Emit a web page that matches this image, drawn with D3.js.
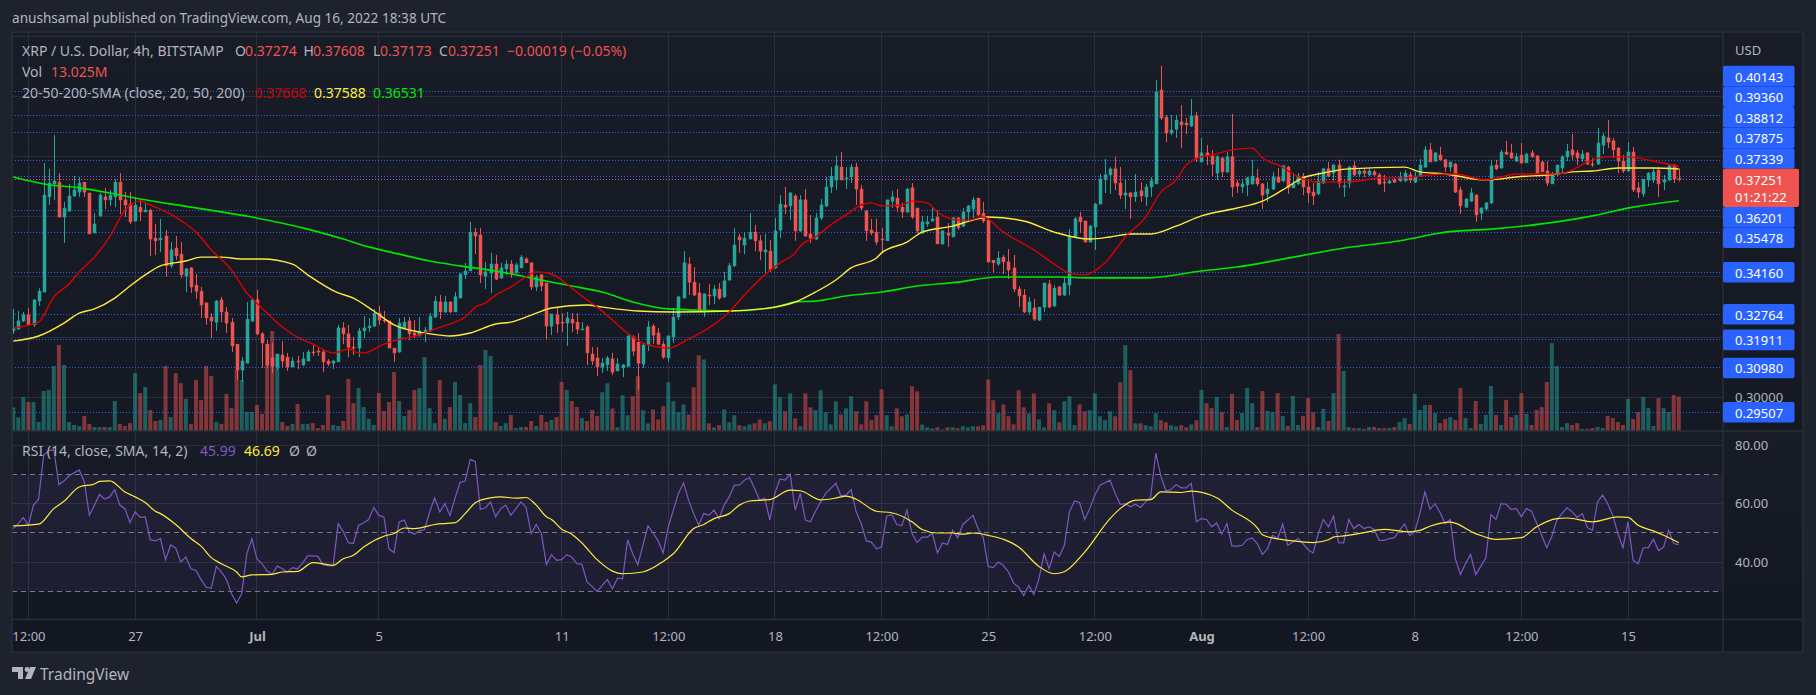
<!DOCTYPE html>
<html>
<head>
<meta charset="utf-8">
<script src="https://cdn.jsdelivr.net/npm/d3@7"></script>
<style>
  html, body { margin: 0; padding: 0; background: #1e222d; overflow: hidden; }
  svg { display: block; }
  text { font-family: "Noto Sans", sans-serif; }
  .tick line, .domain { display: none; }
</style>
</head>
<body>
<svg id="chart" width="1816" height="695"></svg>
<script>
// 4h candles, Jun 23 00:00 to Aug 16 16:00 2022
const opens = [
0.3221,0.3227,0.3254,0.3274,0.3241,0.3320,0.3350,0.3666,0.3709,0.3715,
0.3599,0.3619,0.3669,0.3682,0.3715,0.3679,0.3546,0.3603,0.3666,0.3656,
0.3666,0.3715,0.3656,0.3642,0.3586,0.3632,0.3616,0.3622,0.3529,0.3523,
0.3536,0.3437,0.3496,0.3476,0.3403,0.3430,0.3373,0.3353,0.3314,0.3267,
0.3250,0.3324,0.3284,0.3250,0.3177,0.3091,0.3114,0.3254,0.3324,0.3211,
0.3177,0.3131,0.3101,0.3141,0.3134,0.3101,0.3121,0.3108,0.3121,0.3151,
0.3154,0.3151,0.3121,0.3114,0.3118,0.3231,0.3211,0.3167,0.3164,0.3221,
0.3231,0.3237,0.3280,0.3257,0.3254,0.3164,0.3151,0.3231,0.3254,0.3214,
0.3204,0.3214,0.3221,0.3267,0.3317,0.3284,0.3317,0.3284,0.3330,0.3407,
0.3420,0.3549,0.3539,0.3403,0.3413,0.3443,0.3397,0.3427,0.3443,0.3413,
0.3430,0.3460,0.3447,0.3367,0.3407,0.3380,0.3237,0.3274,0.3250,0.3247,
0.3260,0.3250,0.3224,0.3234,0.3144,0.3131,0.3101,0.3108,0.3128,0.3088,
0.3098,0.3104,0.3201,0.3184,0.3111,0.3174,0.3237,0.3214,0.3177,0.3131,
0.3201,0.3267,0.3330,0.3443,0.3383,0.3347,0.3287,0.3340,0.3337,0.3360,
0.3334,0.3390,0.3437,0.3533,0.3506,0.3526,0.3549,0.3520,0.3483,0.3486,
0.3430,0.3556,0.3639,0.3636,0.3669,0.3553,0.3656,0.3543,0.3526,0.3596,
0.3636,0.3699,0.3722,0.3765,0.3725,0.3732,0.3765,0.3692,0.3619,0.3556,
0.3549,0.3526,0.3520,0.3652,0.3662,0.3632,0.3616,0.3696,0.3629,0.3546,
0.3576,0.3586,0.3599,0.3510,0.3546,0.3533,0.3596,0.3569,0.3616,0.3626,
0.3662,0.3612,0.3589,0.3456,0.3443,0.3466,0.3450,0.3430,0.3360,0.3340,
0.3284,0.3297,0.3257,0.3300,0.3377,0.3304,0.3367,0.3340,0.3373,0.3533,
0.3599,0.3586,0.3516,0.3566,0.3642,0.3725,0.3739,0.3759,0.3712,0.3672,
0.3679,0.3666,0.3686,0.3666,0.3699,0.3709,0.4021,0.3931,0.3878,0.3891,
0.3915,0.3911,0.3901,0.3935,0.3782,0.3812,0.3802,0.3745,0.3795,0.3749,
0.3799,0.3712,0.3699,0.3706,0.3709,0.3729,0.3709,0.3676,0.3692,0.3732,
0.3719,0.3765,0.3696,0.3709,0.3735,0.3699,0.3682,0.3676,0.3712,0.3759,
0.3745,0.3772,0.3699,0.3712,0.3769,0.3742,0.3752,0.3739,0.3749,0.3739,
0.3715,0.3712,0.3722,0.3719,0.3719,0.3739,0.3715,0.3735,0.3765,0.3822,
0.3785,0.3805,0.3789,0.3765,0.3775,0.3689,0.3632,0.3652,0.3672,0.3612,
0.3626,0.3646,0.3772,0.3762,0.3815,0.3812,0.3785,0.3805,0.3779,0.3812,
0.3802,0.3782,0.3752,0.3709,0.3739,0.3762,0.3799,0.3822,0.3812,0.3792,
0.3812,0.3775,0.3775,0.3838,0.3862,0.3852,0.3828,0.3785,0.3752,0.3815,
0.3696,0.3676,0.3722,0.3722,0.3755,0.3715,0.3722,0.3772,0.37274];
const highs = [
0.3294,0.3287,0.3284,0.3297,0.3327,0.3363,0.3779,0.3759,0.3871,0.3745,
0.3649,0.3709,0.3735,0.3732,0.3715,0.3679,0.3612,0.3679,0.3696,0.3689,
0.3725,0.3745,0.3682,0.3682,0.3666,0.3656,0.3649,0.3626,0.3576,0.3593,
0.3556,0.3516,0.3536,0.3516,0.3430,0.3433,0.3410,0.3367,0.3314,0.3280,
0.3324,0.3334,0.3300,0.3264,0.3177,0.3134,0.3317,0.3330,0.3357,0.3217,
0.3191,0.3181,0.3144,0.3187,0.3148,0.3134,0.3138,0.3151,0.3158,0.3174,
0.3164,0.3161,0.3128,0.3124,0.3241,0.3250,0.3241,0.3201,0.3231,0.3270,
0.3264,0.3294,0.3304,0.3287,0.3254,0.3164,0.3264,0.3267,0.3267,0.3257,
0.3267,0.3234,0.3280,0.3337,0.3340,0.3337,0.3320,0.3350,0.3413,0.3447,
0.3583,0.3563,0.3563,0.3450,0.3480,0.3473,0.3447,0.3456,0.3456,0.3447,
0.3473,0.3466,0.3447,0.3407,0.3410,0.3380,0.3277,0.3300,0.3280,0.3284,
0.3280,0.3280,0.3250,0.3241,0.3167,0.3167,0.3131,0.3138,0.3148,0.3131,
0.3111,0.3207,0.3207,0.3214,0.3181,0.3254,0.3244,0.3231,0.3187,0.3207,
0.3297,0.3337,0.3486,0.3466,0.3433,0.3380,0.3344,0.3377,0.3373,0.3380,
0.3417,0.3447,0.3563,0.3543,0.3549,0.3612,0.3573,0.3539,0.3543,0.3523,
0.3596,0.3672,0.3699,0.3682,0.3676,0.3672,0.3692,0.3606,0.3612,0.3659,
0.3732,0.3765,0.3802,0.3815,0.3765,0.3775,0.3779,0.3706,0.3622,0.3593,
0.3593,0.3563,0.3656,0.3686,0.3692,0.3646,0.3696,0.3712,0.3629,0.3603,
0.3603,0.3629,0.3622,0.3556,0.3579,0.3599,0.3599,0.3629,0.3639,0.3666,
0.3662,0.3649,0.3596,0.3456,0.3486,0.3473,0.3493,0.3473,0.3370,0.3360,
0.3334,0.3327,0.3300,0.3380,0.3390,0.3373,0.3370,0.3400,0.3559,0.3599,
0.3616,0.3586,0.3573,0.3646,0.3742,0.3792,0.3765,0.3799,0.3765,0.3725,
0.3682,0.3742,0.3715,0.3709,0.3732,0.4054,0.4101,0.3938,0.3938,0.3938,
0.3971,0.3928,0.3991,0.3948,0.3862,0.3838,0.3822,0.3805,0.3799,0.3815,
0.3941,0.3722,0.3722,0.3732,0.3789,0.3759,0.3712,0.3715,0.3749,0.3762,
0.3772,0.3769,0.3745,0.3745,0.3745,0.3722,0.3712,0.3749,0.3762,0.3782,
0.3775,0.3789,0.3722,0.3769,0.3785,0.3759,0.3762,0.3762,0.3755,0.3745,
0.3739,0.3725,0.3729,0.3749,0.3755,0.3749,0.3749,0.3792,0.3835,0.3845,
0.3815,0.3832,0.3792,0.3782,0.3779,0.3699,0.3662,0.3696,0.3676,0.3632,
0.3649,0.3789,0.3789,0.3822,0.3852,0.3842,0.3812,0.3845,0.3812,0.3822,
0.3805,0.3785,0.3785,0.3749,0.3772,0.3805,0.3842,0.3875,0.3822,0.3822,
0.3815,0.3795,0.3895,0.3878,0.3921,0.3862,0.3832,0.3805,0.3848,0.3832,
0.3715,0.3725,0.3749,0.3765,0.3765,0.3739,0.3775,0.3775,0.37608];
const lows = [
0.3211,0.3227,0.3250,0.3241,0.3234,0.3304,0.3350,0.3639,0.3656,0.3599,
0.3513,0.3616,0.3666,0.3666,0.3666,0.3543,0.3546,0.3599,0.3626,0.3636,
0.3632,0.3609,0.3599,0.3576,0.3583,0.3586,0.3616,0.3470,0.3473,0.3483,
0.3400,0.3430,0.3456,0.3397,0.3350,0.3347,0.3327,0.3264,0.3241,0.3197,
0.3221,0.3250,0.3214,0.3151,0.3058,0.3051,0.3114,0.3250,0.3207,0.3098,
0.3098,0.3081,0.3091,0.3101,0.3088,0.3101,0.3094,0.3104,0.3121,0.3138,
0.3138,0.3084,0.3104,0.3094,0.3118,0.3177,0.3134,0.3141,0.3134,0.3197,
0.3217,0.3234,0.3241,0.3247,0.3164,0.3118,0.3148,0.3227,0.3191,0.3197,
0.3204,0.3184,0.3217,0.3264,0.3260,0.3280,0.3280,0.3284,0.3330,0.3393,
0.3420,0.3476,0.3380,0.3360,0.3347,0.3390,0.3393,0.3407,0.3397,0.3413,
0.3430,0.3447,0.3357,0.3353,0.3353,0.3191,0.3207,0.3214,0.3217,0.3171,
0.3217,0.3211,0.3224,0.3108,0.3108,0.3071,0.3081,0.3088,0.3074,0.3088,
0.3068,0.3101,0.3138,0.3025,0.3098,0.3154,0.3177,0.3174,0.3128,0.3118,
0.3181,0.3257,0.3330,0.3340,0.3337,0.3284,0.3267,0.3307,0.3310,0.3324,
0.3330,0.3387,0.3433,0.3480,0.3476,0.3526,0.3486,0.3456,0.3413,0.3417,
0.3427,0.3529,0.3609,0.3589,0.3520,0.3549,0.3533,0.3513,0.3523,0.3589,
0.3632,0.3679,0.3689,0.3722,0.3692,0.3712,0.3639,0.3622,0.3520,0.3539,
0.3506,0.3483,0.3520,0.3629,0.3616,0.3596,0.3612,0.3593,0.3546,0.3543,
0.3566,0.3583,0.3510,0.3506,0.3500,0.3533,0.3556,0.3566,0.3583,0.3596,
0.3603,0.3579,0.3447,0.3413,0.3437,0.3410,0.3393,0.3350,0.3300,0.3280,
0.3274,0.3254,0.3254,0.3284,0.3297,0.3300,0.3337,0.3337,0.3340,0.3529,
0.3546,0.3516,0.3516,0.3490,0.3642,0.3679,0.3676,0.3689,0.3659,0.3626,
0.3593,0.3649,0.3649,0.3636,0.3666,0.3709,0.3921,0.3848,0.3871,0.3862,
0.3828,0.3875,0.3898,0.3782,0.3782,0.3772,0.3735,0.3722,0.3732,0.3745,
0.3666,0.3679,0.3679,0.3669,0.3706,0.3702,0.3626,0.3649,0.3689,0.3712,
0.3715,0.3676,0.3696,0.3706,0.3672,0.3646,0.3639,0.3672,0.3709,0.3732,
0.3719,0.3696,0.3666,0.3696,0.3735,0.3732,0.3732,0.3735,0.3735,0.3706,
0.3682,0.3709,0.3712,0.3715,0.3715,0.3712,0.3712,0.3732,0.3762,0.3782,
0.3782,0.3785,0.3749,0.3749,0.3679,0.3609,0.3629,0.3649,0.3583,0.3589,
0.3619,0.3642,0.3755,0.3759,0.3805,0.3792,0.3782,0.3775,0.3779,0.3795,
0.3742,0.3749,0.3702,0.3709,0.3735,0.3749,0.3785,0.3789,0.3772,0.3782,
0.3772,0.3765,0.3772,0.3808,0.3828,0.3795,0.3745,0.3745,0.3749,0.3682,
0.3662,0.3666,0.3699,0.3712,0.3666,0.3689,0.3719,0.3712,0.37173];
const closes = [
0.3231,0.3254,0.3274,0.3241,0.3324,0.3353,0.3672,0.3712,0.3719,0.3599,
0.3629,0.3669,0.3689,0.3712,0.3682,0.3543,0.3576,0.3672,0.3656,0.3672,
0.3715,0.3656,0.3639,0.3583,0.3639,0.3616,0.3622,0.3526,0.3520,0.3529,
0.3437,0.3490,0.3470,0.3407,0.3427,0.3367,0.3353,0.3307,0.3264,0.3254,
0.3320,0.3284,0.3247,0.3171,0.3091,0.3121,0.3260,0.3324,0.3211,0.3181,
0.3108,0.3104,0.3144,0.3121,0.3101,0.3121,0.3118,0.3128,0.3151,0.3148,
0.3151,0.3118,0.3111,0.3121,0.3231,0.3211,0.3167,0.3164,0.3221,0.3231,
0.3237,0.3280,0.3257,0.3254,0.3164,0.3148,0.3247,0.3250,0.3211,0.3207,
0.3221,0.3224,0.3270,0.3320,0.3284,0.3317,0.3284,0.3334,0.3410,0.3420,
0.3549,0.3536,0.3407,0.3417,0.3443,0.3393,0.3430,0.3443,0.3410,0.3440,
0.3466,0.3447,0.3367,0.3400,0.3370,0.3237,0.3277,0.3244,0.3247,0.3264,
0.3247,0.3227,0.3227,0.3148,0.3121,0.3101,0.3114,0.3131,0.3084,0.3111,
0.3108,0.3204,0.3154,0.3114,0.3174,0.3234,0.3207,0.3177,0.3134,0.3204,
0.3267,0.3334,0.3447,0.3383,0.3340,0.3287,0.3344,0.3337,0.3360,0.3330,
0.3387,0.3437,0.3506,0.3523,0.3529,0.3549,0.3520,0.3486,0.3490,0.3423,
0.3553,0.3642,0.3632,0.3679,0.3553,0.3656,0.3536,0.3529,0.3596,0.3639,
0.3699,0.3735,0.3769,0.3722,0.3729,0.3765,0.3692,0.3629,0.3553,0.3546,
0.3516,0.3523,0.3656,0.3666,0.3632,0.3616,0.3692,0.3599,0.3553,0.3583,
0.3583,0.3593,0.3510,0.3553,0.3539,0.3596,0.3563,0.3616,0.3636,0.3656,
0.3606,0.3586,0.3450,0.3447,0.3463,0.3450,0.3423,0.3360,0.3337,0.3284,
0.3317,0.3260,0.3300,0.3380,0.3300,0.3363,0.3340,0.3380,0.3533,0.3593,
0.3583,0.3516,0.3569,0.3642,0.3725,0.3739,0.3759,0.3712,0.3672,0.3679,
0.3666,0.3682,0.3669,0.3699,0.3719,0.4014,0.3928,0.3878,0.3888,0.3921,
0.3905,0.3905,0.3935,0.3795,0.3812,0.3802,0.3775,0.3799,0.3749,0.3799,
0.3699,0.3702,0.3709,0.3729,0.3735,0.3709,0.3672,0.3692,0.3732,0.3715,
0.3769,0.3696,0.3709,0.3735,0.3699,0.3679,0.3669,0.3719,0.3759,0.3735,
0.3772,0.3712,0.3702,0.3765,0.3739,0.3752,0.3745,0.3752,0.3739,0.3709,
0.3712,0.3719,0.3715,0.3732,0.3745,0.3722,0.3735,0.3772,0.3822,0.3782,
0.3812,0.3789,0.3765,0.3782,0.3682,0.3636,0.3659,0.3679,0.3606,0.3629,
0.3646,0.3769,0.3759,0.3815,0.3808,0.3795,0.3799,0.3779,0.3808,0.3799,
0.3745,0.3749,0.3712,0.3739,0.3772,0.3799,0.3818,0.3805,0.3795,0.3808,
0.3775,0.3772,0.3845,0.3868,0.3848,0.3822,0.3785,0.3752,0.3815,0.3689,
0.3682,0.3725,0.3745,0.3749,0.3709,0.3722,0.3769,0.3725,0.37251];
// millions
const volumes = [
9.0,5.2,12.9,11.0,11.0,3.4,15.2,15.6,24.7,32.7,
25.1,3.4,2.3,1.8,5.7,2.7,1.5,1.5,1.5,1.5,
11.4,2.7,1.9,3.0,22.0,14.4,16.7,8.0,3.8,4.2,
24.7,5.3,22.0,18.2,12.2,2.7,19.4,11.8,24.7,20.9,
3.4,2.7,14.1,8.7,23.2,19.4,7.2,7.2,9.9,6.5,
33.1,38.0,29.3,3.4,1.9,2.7,10.3,2.7,2.7,3.0,
1.1,2.3,13.7,2.3,1.9,3.8,19.8,10.6,16.3,9.1,
4.6,2.3,14.4,7.6,11.0,22.4,11.4,5.7,8.0,15.6,
16.3,28.1,8.7,3.0,19.4,4.6,9.1,18.6,13.7,3.0,
10.6,5.3,25.1,30.8,28.5,3.4,1.9,3.0,6.1,1.1,
1.5,1.5,3.8,1.9,6.1,3.4,4.2,5.3,18.6,15.6,
11.4,9.1,4.9,3.8,8.0,5.7,14.7,18.1,8.6,1.4,
13.6,6.0,13.2,20.8,7.9,2.9,8.2,4.4,9.4,18.5,
11.3,7.1,10.1,6.3,16.6,28.8,27.2,2.9,1.4,2.2,
8.2,3.3,6.0,2.2,1.8,2.5,2.9,4.4,2.9,3.7,
17.7,12.8,7.5,14.3,4.8,1.8,14.3,9.0,7.9,15.5,
7.1,2.5,11.3,6.3,8.6,13.2,7.5,2.5,11.3,4.1,
6.0,15.8,6.0,1.8,8.6,5.6,6.3,17.0,15.1,2.5,
1.4,1.0,1.4,0.6,1.4,1.4,1.0,1.8,1.4,1.8,
1.8,2.2,19.6,11.7,6.7,10.1,5.6,2.5,15.5,9.0,
6.7,14.3,4.4,1.4,10.5,7.9,3.3,11.3,13.2,2.2,
10.1,7.5,7.9,14.3,5.6,4.1,7.5,5.6,18.5,32.6,
23.1,2.9,2.9,2.2,1.8,6.7,4.1,3.3,2.2,1.8,
2.2,1.4,2.5,4.1,15.6,10.6,8.7,12.9,7.2,1.5,
14.1,4.2,6.8,16.3,10.6,1.5,15.2,7.6,7.2,14.4,
5.7,1.9,13.3,2.3,5.7,12.5,7.2,1.5,8.4,3.8,
14.4,36.9,22.8,1.5,1.1,1.1,0.8,1.5,1.5,1.1,
1.1,1.1,1.5,3.4,4.9,2.7,14.1,8.0,9.9,9.9,
6.8,3.0,4.6,5.3,4.2,16.3,4.9,1.1,11.4,2.7,
6.1,17.1,6.1,2.3,11.8,5.3,6.1,14.4,6.5,2.3,
8.0,9.1,18.6,33.4,24.7,1.5,3.0,2.3,3.0,0.8,
0.8,1.1,1.5,1.1,5.7,4.9,3.4,2.3,12.2,4.6,
7.2,12.9,8.7,1.9,12.5,8.7,7.2,13.7,13.025];
const rsiValues = [
51.5,53.2,55.3,52.6,59.5,61.5,76.6,78.1,78.3,66.5,
67.7,69.5,70.5,71.5,67.5,56,59.5,63.1,61.6,62.3,
64.8,59.5,58.3,53.5,57.2,55.3,55.5,47.7,47.3,48.1,
40.9,45.9,44.9,40.1,41.8,37.8,37.2,34.1,31.5,31.1,
38.6,36.7,34.1,29.3,26.1,29.3,42.9,48,41.2,39.5,
37,35.9,38.7,37.8,36.7,38.2,37.8,39.8,42.2,42.2,
42,39.2,38.9,38.9,53.2,50.4,46.7,46.4,52.6,53.5,
54.6,58.7,56,55.5,44.6,43.3,53.8,54.4,50.4,49.6,
50.7,51.2,57.2,61.9,57.2,60,56,61.8,67.2,67.7,
75.1,74.3,58,58.6,60.6,55.5,58.3,59.5,56,58.3,
60.6,58.7,49.8,52.9,49.8,39.2,42.6,40.7,40.9,42.6,
41.8,39.5,39.3,33.3,31.8,30,
32.1,34.1,31,34.6,34.4,47.7,42.9,39.2,45.8,52.4,
50,47.3,43.2,52.1,57.8,63.5,67.1,61.2,56.6,52.6,
56.6,56,57.8,54.9,59.5,62.3,66.3,66.3,68,68.9,
65.2,61.2,61.8,54.4,63.5,68.4,68,70.1,57.8,63.5,
54.4,53.8,57.4,60.6,63.5,65.2,66.9,62.7,62.9,64.8,
57.2,53.2,47.3,46.9,44.6,45.2,55.7,56.3,52.9,52.5,
57.8,49.8,46.8,48.6,48.6,49.8,43.2,46.6,46.1,50.9,
48.4,52.9,54.4,56,51.5,48.6,38.6,38.2,40.1,38.9,
36.7,32.9,31.5,28.7,32.1,29,34.4,42.9,37.8,43.5,
42,45.8,57.2,60.9,60.4,54.6,58.3,62.9,66.3,67.1,
68,63.5,59.8,60,58.9,59.8,58.7,60.6,62.3,77.2,
69.4,64.4,64.8,66.5,65.4,65.4,66.9,53.8,
54.9,54.6,52.1,53.4,49.6,53.2,45.6,45.5,45.8,47.8,
48.3,46.4,42.7,44.6,49.2,48.1,53,45.8,46.9,48.1,
46.4,44.3,43.2,49.8,54.6,52.1,55.7,46.7,46.6,54.6,
51.5,52.9,51.5,52.1,51.3,47.5,47.5,48.1,48.4,50.9,
53.1,49.1,50.4,56.6,64,58.1,60,56.9,53.2,54.6,
41.2,35.9,39.5,42.7,35.8,38.6,41.5,56.3,54.6,60,
59.8,58,58.4,55.5,58.3,57.4,53.4,49.2,45,48.9,
54.4,56.6,58.6,57.2,55.3,56.6,51.8,50.9,60.6,62.9,
60,56,49.8,45,53.8,40.7,39.5,44.9,45,47.9,
44,45.2,50.9,46.4,45.99];

// moving averages, read at the bars where the line bends
const ma20Bars = [0,5,8,11,13,16,19,22,25,27,32,34,36,39,43,46,47,50,53,57,59,63,64,66,68,69,73,77,80,83,87,89,91,93,95,98,101,103,106,108,110,113,115,118,120,124,129,133,137,141,144,148,151,154,155,158,161,164,167,169,171,175,177,180,182,186,188,191,195,201,205,208,211,215,219,223,226,229,231,234,236,240,244,246,250,252,257,261,265,269,274,277,282,284,290,293,296,304,307,310,314,318,323,328];
const ma20Values = [
0.3231,0.3250,0.3334,0.3377,0.3417,0.3466,0.3533,0.3622,0.3652,0.3639,
0.3599,0.3576,0.3549,0.3490,0.3423,0.3347,0.3330,0.3280,0.3234,0.3191,
0.3177,0.3148,0.3151,0.3161,0.3148,0.3148,0.3177,0.3197,0.3207,0.3227,
0.3250,0.3267,0.3300,0.3314,0.3340,0.3367,0.3400,0.3417,0.3410,0.3390,
0.3363,0.3324,0.3300,0.3257,0.3227,0.3181,0.3164,0.3194,0.3231,0.3284,
0.3340,0.3407,0.3447,0.3480,0.3503,0.3533,0.3573,0.3606,0.3639,0.3646,
0.3636,0.3639,0.3652,0.3646,0.3616,0.3589,0.3589,0.3599,0.3549,0.3490,
0.3443,0.3413,0.3407,0.3447,0.3533,0.3599,0.3682,0.3722,0.3772,0.3799,
0.3805,0.3822,0.3828,0.3795,0.3765,0.3742,0.3715,0.3715,0.3719,0.3729,
0.3729,0.3735,0.3742,0.3742,0.3722,0.3732,0.3742,0.3742,0.3755,0.3782,
0.3799,0.3799,0.3785,0.37668];
const ma50Bars = [0,5,10,13,16,20,23,26,29,34,37,41,45,49,55,58,64,67,71,75,80,84,86,90,95,98,103,106,113,116,123,130,141,150,154,158,162,165,170,171,176,179,185,189,192,199,205,212,216,220,224,229,234,241,246,250,254,257,263,274,277,282,290,296,304,307,311,316,323,328];
const ma50Values = [
0.3187,0.3204,0.3247,0.3280,0.3294,0.3330,0.3370,0.3407,0.3437,0.3453,
0.3466,0.3466,0.3460,0.3460,0.3443,0.3407,0.3347,0.3330,0.3287,0.3241,
0.3217,0.3207,0.3204,0.3214,0.3244,0.3250,0.3280,0.3297,0.3307,0.3300,
0.3287,0.3284,0.3287,0.3300,0.3317,0.3350,0.3390,0.3430,0.3463,0.3480,
0.3516,0.3549,0.3569,0.3589,0.3599,0.3586,0.3549,0.3526,0.3533,0.3543,
0.3543,0.3569,0.3603,0.3629,0.3652,0.3689,0.3729,0.3742,0.3759,0.3765,
0.3749,0.3742,0.3722,0.3732,0.3742,0.3749,0.3752,0.3762,0.3762,0.37588];
const ma200Bars = [0,6,13,19,25,35,47,58,65,70,76,82,88,95,103,110,116,122,129,141,150,154,158,164,171,178,186,194,206,212,223,234,241,249,261,274,282,291,304,311,319,328];
const ma200Values = [
0.3732,0.3709,0.3696,0.3679,0.3659,0.3632,0.3599,0.3559,0.3526,0.3500,
0.3476,0.3453,0.3437,0.3420,0.3393,0.3370,0.3350,0.3317,0.3294,0.3287,
0.3300,0.3317,0.3320,0.3337,0.3350,0.3370,0.3383,0.3400,0.3400,0.3397,
0.3397,0.3420,0.3433,0.3456,0.3493,0.3523,0.3549,0.3559,0.3583,0.3603,
0.3632,0.36531];
const rsiMaBars = [0,5,8,10,13,16,17,19,22,24,26,28,29,32,35,37,39,41,44,45,47,51,53,56,59,63,65,67,69,73,75,77,79,83,87,89,91,94,96,99,101,103,105,106,108,110,112,115,
118,120,124,128,130,134,136,138,141,143,145,149,153,155,159,162,164,166,170,173,177,179,182,185,187,189,192,198,202,205,207,211,216,218,221,224,226,230,232,
237,240,245,246,249,251,256,259,260,262,266,270,275,277,279,283,288,292,297,300,304,306,311,316,318,320,323,325,328];
const rsiMaValues = [52.4,53,58.3,60.8,65.7,66.7,67.6,67.8,64,62.3,60.4,57.4,56.6,52.9,48.1,45.5,41.6,39.5,36.7,35,35.7,35.9,36.7,36.9,39.9,39,41.2,42.4,45.2,48.9,49.8,51.7,51.5,52.9,53.5,56.6,60.3,62,62.3,61.9,62.1,59.5,55.5,54.6,51.3,49.6,46.6,40.9,
37,36.1,36.7,40.3,42.9,51.5,52.9,54.9,56.6,59.5,60.9,61.4,64.6,64.4,61.3,61.9,62.6,61.5,57.4,56.9,53.8,51.2,50,50,49.6,50,49.2,45.2,38.6,36.1,36.8,43.5,54.9,58.3,61.2,61.4,64,63.8,64.3,
62,57.8,51.7,49.4,48,47.5,46.7,47.7,48.6,49,50.1,51.2,50.4,50.9,52.3,53.7,49.8,47.8,48.4,52.1,54.9,55.1,53.8,55.5,55.3,52.6,50.7,49.2,46.69];

const levelPrices = [0.40143,0.39360,0.38812,0.37875,0.37339,0.36201,0.35478,0.34160,0.32764,0.31911,0.30980,0.29507];
const lastPrice = 0.37251;
const countdown = "01:21:22";
const gridPrices = [0.30,0.32,0.34,0.36,0.38,0.40,0.42];
const axisPrices = [0.30];
const rsiTicks = [40,60,80];
const rsiBands = [30,50,70];
const timeTickBars = [3,24,48,72,108,129,150,171,192,213,234,255,276,297,318];
const timeTickLabels = ["12:00","27","Jul","5","11","12:00","18","12:00","25","12:00","Aug","12:00","8","12:00","15"];
const boldTicks = ["Jul","Aug"];

const UP = "#26a69a", DOWN = "#ef5350", BLUE = "#2962ff", GRID = "#2a2e39";
const AXIS_TEXT = "#b2b5be", LEGEND_TEXT = "#b2b5be";

// frame of the chart
const left = 12, right = 1723, frameRight = 1803, paneTop = 32;
const priceBottom = 431, rsiBottom = 619.5, frameBottom = 652;

const svg = d3.select("#chart");

const x = d3.scaleLinear().domain([0, opens.length - 1]).range([13.2, 1678.8]);
const y = d3.scaleLinear().domain([0.37875, 0.29507]).range([160.3, 412.3]);
const yVol = d3.scaleLinear().domain([0, 38]).range([priceBottom, priceBottom - 100]);
const yRsi = d3.scaleLinear().domain([80, 40]).range([445, 562.3]);

const defs = svg.append("defs");
function paneGradient(id, topColor, bottomColor) {
  const g = defs.append("linearGradient").attr("id", id).attr("x1", 0).attr("x2", 0).attr("y1", 0).attr("y2", 1);
  g.append("stop").attr("offset", 0).attr("stop-color", topColor);
  g.append("stop").attr("offset", 1).attr("stop-color", bottomColor);
}
paneGradient("bgPrice", "#181c27", "#151924");
paneGradient("bgRsi", "#181c27", "#131722");
defs.append("clipPath").attr("id", "priceClip").append("rect")
  .attr("x", left).attr("y", paneTop).attr("width", right - left).attr("height", priceBottom - paneTop);
defs.append("clipPath").attr("id", "rsiClip").append("rect")
  .attr("x", left).attr("y", priceBottom).attr("width", right - left).attr("height", rsiBottom - priceBottom);

// backgrounds
svg.append("rect").attr("width", 1816).attr("height", 695).attr("fill", "#1e222d");
svg.append("rect").attr("x", left).attr("y", paneTop).attr("width", frameRight - left).attr("height", priceBottom - paneTop).attr("fill", "url(#bgPrice)");
svg.append("rect").attr("x", left).attr("y", priceBottom).attr("width", frameRight - left).attr("height", rsiBottom - priceBottom).attr("fill", "url(#bgRsi)");
svg.append("rect").attr("x", left).attr("y", rsiBottom).attr("width", frameRight - left).attr("height", frameBottom - rsiBottom).attr("fill", "#131722");

// grid
const grid = svg.append("g").attr("stroke", GRID).attr("stroke-width", 1).attr("shape-rendering", "crispEdges");
grid.selectAll(".hp").data(gridPrices).enter().append("line")
  .attr("x1", left).attr("x2", right).attr("y1", d => y(d)).attr("y2", d => y(d));
grid.selectAll(".hr").data(rsiTicks).enter().append("line")
  .attr("x1", left).attr("x2", right).attr("y1", d => yRsi(d)).attr("y2", d => yRsi(d));
grid.selectAll(".v").data(timeTickBars).enter().append("line")
  .attr("x1", d => x(d)).attr("x2", d => x(d)).attr("y1", paneTop).attr("y2", rsiBottom);

// rsi band
svg.append("rect").attr("x", left).attr("width", right - left)
  .attr("y", yRsi(70)).attr("height", yRsi(30) - yRsi(70)).attr("fill", "rgba(126,87,194,0.1)");
svg.append("g").selectAll("line").data(rsiBands).enter().append("line")
  .attr("x1", left).attr("x2", right).attr("y1", d => yRsi(d)).attr("y2", d => yRsi(d))
  .attr("stroke", "#787b86").attr("stroke-dasharray", "5 4").attr("shape-rendering", "crispEdges");

const pricePane = svg.append("g").attr("clip-path", "url(#priceClip)");

// volume
pricePane.append("g").selectAll("rect").data(volumes).enter().append("rect")
  .attr("x", (d, i) => x(i) - 2).attr("width", 4)
  .attr("y", d => yVol(d)).attr("height", d => priceBottom - yVol(d))
  .attr("fill", (d, i) => closes[i] >= opens[i] ? "rgba(38,166,154,0.5)" : "rgba(239,83,80,0.5)");

// horizontal levels
pricePane.append("g").selectAll("line").data(levelPrices).enter().append("line")
  .attr("x1", left).attr("x2", right).attr("y1", d => y(d)).attr("y2", d => y(d))
  .attr("stroke", BLUE).attr("stroke-dasharray", "1 2").attr("shape-rendering", "crispEdges");
pricePane.append("line").attr("x1", left).attr("x2", right).attr("y1", y(lastPrice)).attr("y2", y(lastPrice))
  .attr("stroke", DOWN).attr("stroke-dasharray", "1 2").attr("shape-rendering", "crispEdges");

// candles
const candle = pricePane.append("g").selectAll("g").data(opens).enter().append("g")
  .attr("fill", (d, i) => closes[i] >= opens[i] ? UP : DOWN)
  .attr("stroke", (d, i) => closes[i] >= opens[i] ? UP : DOWN);
candle.append("line")
  .attr("x1", (d, i) => Math.round(x(i)) + 0.5).attr("x2", (d, i) => Math.round(x(i)) + 0.5)
  .attr("y1", (d, i) => y(highs[i])).attr("y2", (d, i) => y(lows[i]));
candle.append("rect")
  .attr("x", (d, i) => Math.round(x(i)) - 1).attr("width", 3)
  .attr("y", (d, i) => y(Math.max(opens[i], closes[i])))
  .attr("height", (d, i) => Math.max(0.5, Math.abs(y(opens[i]) - y(closes[i]))))
  .attr("stroke-width", 0.5);

// moving averages
const priceLine = bars => d3.line().x((d, i) => x(bars[i])).y(d => y(d)).curve(d3.curveMonotoneX);
pricePane.append("path").attr("d", priceLine(ma200Bars)(ma200Values)).attr("fill", "none").attr("stroke", "#00e600").attr("stroke-width", 1.6);
pricePane.append("path").attr("d", priceLine(ma50Bars)(ma50Values)).attr("fill", "none").attr("stroke", "#ffeb3b").attr("stroke-width", 1.4);
pricePane.append("path").attr("d", priceLine(ma20Bars)(ma20Values)).attr("fill", "none").attr("stroke", "#dc0000").attr("stroke-width", 1.4);

// rsi
const rsiPane = svg.append("g").attr("clip-path", "url(#rsiClip)");
rsiPane.append("path")
  .attr("d", d3.line().x((d, i) => x(i)).y(d => yRsi(d))(rsiValues))
  .attr("fill", "none").attr("stroke", "#7e57c2").attr("stroke-width", 1.2);
rsiPane.append("path")
  .attr("d", d3.line().x((d, i) => x(rsiMaBars[i])).y(d => yRsi(d)).curve(d3.curveMonotoneX)(rsiMaValues))
  .attr("fill", "none").attr("stroke", "#ffeb3b").attr("stroke-width", 1.2);

// frame lines
const frameLines = svg.append("g").attr("stroke", "#2a2e39").attr("stroke-width", 1.5).attr("fill", "none");
frameLines.append("rect").attr("x", left).attr("y", paneTop).attr("width", frameRight - left).attr("height", frameBottom - paneTop);
frameLines.append("line").attr("x1", left).attr("x2", frameRight).attr("y1", priceBottom).attr("y2", priceBottom);
frameLines.append("line").attr("x1", left).attr("x2", frameRight).attr("y1", rsiBottom).attr("y2", rsiBottom);
frameLines.append("line").attr("x1", right).attr("x2", right).attr("y1", paneTop).attr("y2", frameBottom);

// time axis
const timeAxis = svg.append("g").attr("transform", `translate(0,${rsiBottom})`)
  .call(d3.axisBottom(x).tickValues(timeTickBars).tickSize(0).tickPadding(0)
    .tickFormat((d, i) => timeTickLabels[i]));
timeAxis.selectAll("text")
  .attr("y", 17).attr("dy", "0.35em").attr("font-size", 13)
  .attr("fill", AXIS_TEXT)
  .attr("font-weight", d => boldTicks.includes(timeTickLabels[timeTickBars.indexOf(d)]) ? 700 : 400);

// price and rsi axes
const priceAxis = svg.append("g").attr("transform", `translate(${right},0)`)
  .call(d3.axisRight(y).tickValues(axisPrices).tickSize(0).tickPadding(0).tickFormat(d3.format(".5f")));
const rsiAxis = svg.append("g").attr("transform", `translate(${right},0)`)
  .call(d3.axisRight(yRsi).tickValues(rsiTicks).tickSize(0).tickPadding(0).tickFormat(d3.format(".2f")));
[priceAxis, rsiAxis].forEach(a => a.selectAll("text")
  .attr("x", 12).attr("font-size", 13).attr("fill", AXIS_TEXT));

svg.append("text").attr("x", 1735).attr("y", 50).attr("dy", "0.35em").attr("font-size", 13).attr("fill", AXIS_TEXT).text("USD");

// price labels: the last price stays put, the others get pushed off it
const labelH = 20.6;
const above = levelPrices.filter(p => p > lastPrice).sort(d3.ascending);
const below = levelPrices.filter(p => p < lastPrice).sort(d3.descending);
const labelPos = [];
let edge = y(lastPrice) - labelH / 2;
above.forEach(p => {
  const cy = Math.min(y(p), edge - labelH / 2);
  labelPos.push({ price: p, cy });
  edge = cy - labelH / 2;
});
edge = y(lastPrice) + labelH / 2 + 17.5;
below.forEach(p => {
  const cy = Math.max(y(p), edge + labelH / 2);
  labelPos.push({ price: p, cy });
  edge = cy + labelH / 2;
});
const labels = svg.append("g").selectAll("g").data(labelPos).enter().append("g");
labels.append("rect").attr("x", right).attr("width", 71.5).attr("y", d => d.cy - labelH / 2).attr("height", labelH)
  .attr("rx", 2).attr("fill", BLUE);
labels.append("text").attr("x", right + 12).attr("y", d => d.cy + 1).attr("dy", "0.35em")
  .attr("font-size", 13).attr("fill", "#fff").text(d => d.price.toFixed(5));

const lastY = y(lastPrice);
svg.append("rect").attr("x", right).attr("width", 76).attr("y", lastY - labelH / 2).attr("height", labelH + 17.5)
  .attr("rx", 2).attr("fill", DOWN);
svg.append("text").attr("x", right + 12).attr("y", lastY + 1).attr("dy", "0.35em").attr("font-size", 13).attr("fill", "#fff").text(lastPrice.toFixed(5));
svg.append("text").attr("x", right + 12).attr("y", lastY + 18).attr("dy", "0.35em").attr("font-size", 13).attr("fill", "#fff").text(countdown);

// legends
function legend(items, yPos, size) {
  svg.append("g").selectAll("text").data(items).enter().append("text")
    .attr("x", d => d[0]).attr("y", yPos).attr("dy", "0.35em")
    .attr("font-size", size || 14).attr("fill", d => d[2]).text(d => d[1]);
}
svg.append("text").attr("x", 12).attr("y", 18).attr("dy", "0.35em").attr("font-size", 13.6)
  .attr("fill", "#b2b5be").text("anushsamal published on TradingView.com, Aug 16, 2022 18:38 UTC");
legend([
  [22, "XRP / U.S. Dollar, 4h, BITSTAMP", LEGEND_TEXT],
  [235, "O", LEGEND_TEXT], [245, "0.37274", DOWN],
  [303.5, "H", LEGEND_TEXT], [313, "0.37608", DOWN],
  [373, "L", LEGEND_TEXT], [380, "0.37173", DOWN],
  [439, "C", LEGEND_TEXT], [448, "0.37251", DOWN],
  [507, "−0.00019 (−0.05%)", DOWN]
], 51);
legend([[22, "Vol", LEGEND_TEXT], [51, "13.025M", DOWN]], 72);
legend([
  [22, "20-50-200-SMA (close, 20, 50, 200)", LEGEND_TEXT],
  [254.5, "0.37668", "#cc0000"], [314, "0.37588", "#ffeb3b"], [373, "0.36531", "#00e600"]
], 93);
legend([
  [22, "RSI (14, close, SMA, 14, 2)", LEGEND_TEXT],
  [200, "45.99", "#7e57c2"], [244, "46.69", "#ffeb3b"],
  [289, "Ø", LEGEND_TEXT], [306, "Ø", LEGEND_TEXT]
], 450.7);

// footer logo
const logo = svg.append("g").attr("fill", "#b2b5be");
logo.append("path").attr("d", "M12 667h11v12h-5v-7h-6z");
logo.append("circle").attr("cx", 27).attr("cy", 669.5).attr("r", 2.4);
logo.append("path").attr("d", "M30 667h6l-5 12h-6z");
svg.append("text").attr("x", 40).attr("y", 675).attr("dy", "0.35em").attr("font-size", 15.5)
  .attr("fill", "#b2b5be").text("TradingView");
</script>
</body>
</html>
